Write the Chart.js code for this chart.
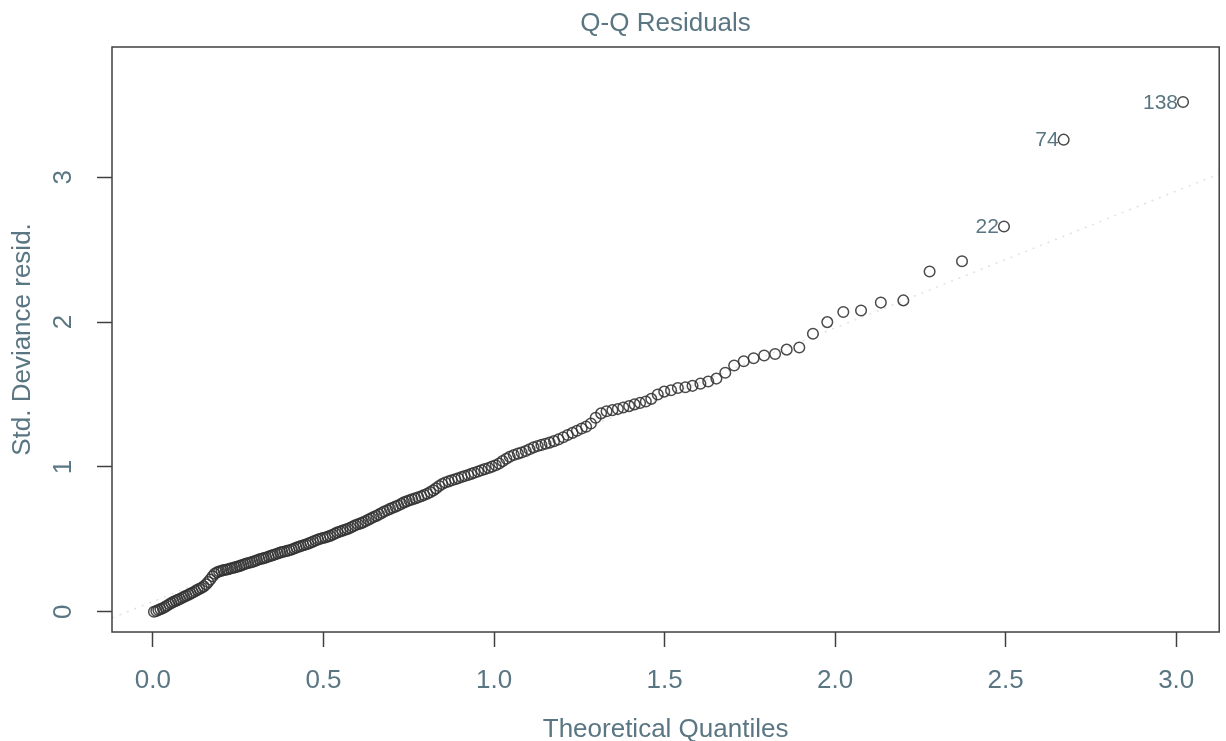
<!DOCTYPE html>
<html>
<head>
<meta charset="utf-8">
<title>Q-Q Residuals</title>
<script src="https://cdn.jsdelivr.net/npm/chart.js@4/dist/chart.umd.min.js"></script>
<style>
  html, body { margin: 0; padding: 0; background: #ffffff; }
  #wrap { position: relative; width: 1226px; height: 741px; }
  canvas { display: block; }
</style>
</head>
<body>
<div id="wrap"><canvas id="qq" width="1226" height="741"></canvas></div>
<script>
// Theoretical quantiles (upper half of the normal scores), ascending
const theoreticalQuantiles = [
  0.003,0.010,0.016,0.022,0.029,0.035,0.041,0.048,0.054,0.060,
  0.067,0.073,0.079,0.086,0.092,0.098,0.105,0.111,0.117,0.124,
  0.130,0.136,0.143,0.149,0.156,0.162,0.168,0.175,0.181,0.188,
  0.194,0.201,0.207,0.214,0.220,0.227,0.233,0.240,0.246,0.253,
  0.259,0.266,0.272,0.279,0.286,0.292,0.299,0.305,0.312,0.319,
  0.325,0.332,0.339,0.346,0.352,0.359,0.366,0.373,0.379,0.386,
  0.393,0.400,0.407,0.414,0.421,0.428,0.434,0.441,0.448,0.455,
  0.462,0.469,0.477,0.484,0.491,0.498,0.505,0.512,0.519,0.527,
  0.534,0.541,0.549,0.556,0.564,0.571,0.579,0.586,0.593,0.601,
  0.609,0.616,0.624,0.632,0.640,0.647,0.655,0.663,0.671,0.678,
  0.687,0.695,0.703,0.711,0.719,0.728,0.736,0.744,0.752,0.760,
  0.769,0.778,0.787,0.795,0.804,0.813,0.822,0.830,0.839,0.848,
  0.857,0.867,0.876,0.886,0.895,0.905,0.914,0.924,0.933,0.942,
  0.953,0.963,0.973,0.984,0.994,1.005,1.015,1.025,1.036,1.046,
  1.058,1.070,1.081,1.093,1.104,1.116,1.128,1.139,1.151,1.163,
  1.176,1.189,1.203,1.216,1.230,1.243,1.257,1.270,1.284,1.298,
  1.314,1.330,1.347,1.363,1.379,1.396,1.412,1.428,1.445,1.461,
  1.480,1.499,1.519,1.539,1.561,1.582,1.605,1.628,1.652,1.678,
  1.704,1.732,1.761,1.792,1.824,1.858,1.895,1.935,1.977,2.024,
  2.076,2.134,2.200,2.277,2.372,2.495,2.670,3.020
];

// Sorted standardized deviance residuals
const devianceResiduals = [
  0.000,0.005,0.012,0.018,0.024,0.033,0.041,0.052,0.060,0.068,
  0.075,0.082,0.088,0.096,0.104,0.110,0.118,0.126,0.133,0.142,
  0.150,0.158,0.166,0.175,0.190,0.205,0.222,0.245,0.262,0.272,
  0.278,0.283,0.287,0.290,0.293,0.298,0.302,0.306,0.310,0.315,
  0.320,0.326,0.331,0.336,0.340,0.344,0.350,0.356,0.362,0.366,
  0.370,0.375,0.381,0.386,0.391,0.397,0.402,0.408,0.412,0.416,
  0.420,0.425,0.430,0.437,0.443,0.449,0.454,0.459,0.464,0.470,
  0.476,0.484,0.492,0.499,0.504,0.509,0.513,0.518,0.524,0.532,
  0.540,0.548,0.554,0.560,0.566,0.572,0.580,0.589,0.597,0.604,
  0.610,0.617,0.626,0.636,0.645,0.654,0.662,0.672,0.682,0.692,
  0.701,0.710,0.718,0.726,0.734,0.745,0.755,0.762,0.770,0.776,
  0.783,0.790,0.798,0.806,0.815,0.826,0.838,0.852,0.868,0.882,
  0.892,0.900,0.908,0.915,0.922,0.930,0.937,0.944,0.952,0.960,
  0.968,0.977,0.985,0.993,1.002,1.012,1.024,1.040,1.056,1.070,
  1.082,1.092,1.100,1.110,1.122,1.135,1.145,1.152,1.160,1.168,
  1.178,1.190,1.205,1.220,1.235,1.250,1.265,1.278,1.300,1.340,
  1.370,1.385,1.392,1.400,1.410,1.420,1.432,1.442,1.452,1.470,
  1.500,1.520,1.530,1.545,1.550,1.560,1.575,1.590,1.610,1.650,
  1.700,1.730,1.750,1.770,1.780,1.810,1.825,1.920,2.000,2.070,
  2.080,2.135,2.150,2.350,2.420,2.660,3.260,3.520
];

// Observations flagged with their row number
const flaggedPointIndex = [195, 196, 197];
const flaggedPointText = ['22', '74', '138'];

// Reference line end points (x, y)
const refLineX = [-0.12, 3.126];
const refLineY = [-0.043, 3.024];

// Axis ticks
const xTickValues = [0, 0.5, 1, 1.5, 2, 2.5, 3];
const xTickLabels = ['0.0', '0.5', '1.0', '1.5', '2.0', '2.5', '3.0'];
const yTickValues = [0, 1, 2, 3];
const yTickLabels = ['0', '1', '2', '3'];

const chartTitle = 'Q-Q Residuals';
const xAxisTitle = 'Theoretical Quantiles';
const yAxisTitle = 'Std. Deviance resid.';

const TEXT_COLOR = '#5a7682';
const AXIS_COLOR = '#404040';
const FONT = '"Liberation Sans", Arial, sans-serif';

const points = theoreticalQuantiles.map((x, i) => ({ x: x, y: devianceResiduals[i] }));
const refLine = refLineX.map((x, i) => ({ x: x, y: refLineY[i] }));

// Box around the plotting region, titles, and point labels
const decorations = {
  id: 'decorations',
  afterDatasetsDraw(chart) {
    const ctx = chart.ctx;
    const a = chart.chartArea;
    ctx.save();
    ctx.strokeStyle = AXIS_COLOR;
    ctx.lineWidth = 1.5;
    ctx.strokeRect(a.left, a.top, a.right - a.left, a.bottom - a.top);

    // labels of flagged observations, to the left of their markers
    const meta = chart.getDatasetMeta(1);
    ctx.fillStyle = TEXT_COLOR;
    ctx.font = '21px ' + FONT;
    ctx.textAlign = 'right';
    ctx.textBaseline = 'middle';
    flaggedPointIndex.forEach((idx, j) => {
      const el = meta.data[idx];
      ctx.fillText(flaggedPointText[j], el.x - 5, el.y + 1);
    });

    // main title and axis titles
    ctx.font = '26px ' + FONT;
    ctx.textAlign = 'center';
    ctx.textBaseline = 'alphabetic';
    const cx = (a.left + a.right) / 2;
    ctx.fillText(chartTitle, cx, 31);
    ctx.fillText(xAxisTitle, cx, 737);

    ctx.translate(30, (a.top + a.bottom) / 2);
    ctx.rotate(-Math.PI / 2);
    ctx.fillText(yAxisTitle, 0, 0);
    ctx.restore();
  }
};

new Chart(document.getElementById('qq'), {
  type: 'scatter',
  data: {
    datasets: [
      {
        type: 'line',
        data: refLine,
        borderColor: 'rgba(170,170,170,0.35)',
        borderWidth: 1.5,
        borderDash: [2, 6],
        pointRadius: 0,
        fill: false,
        order: 2
      },
      {
        data: points,
        pointStyle: 'circle',
        pointRadius: 5.3,
        backgroundColor: 'rgba(0,0,0,0)',
        borderColor: 'rgba(50,50,50,0.88)',
        borderWidth: 1.5,
        order: 1
      }
    ]
  },
  options: {
    responsive: false,
    animation: false,
    devicePixelRatio: 1,
    events: [],
    layout: { padding: { left: 0, right: 4, top: 47, bottom: 0 } },
    plugins: {
      legend: { display: false },
      title: { display: false },
      tooltip: { enabled: false }
    },
    scales: {
      x: {
        type: 'linear',
        min: -0.12,
        max: 3.126,
        afterBuildTicks: s => { s.ticks = xTickValues.map(v => ({ value: v })); },
        afterFit: s => { s.height = 109; },
        border: { display: false },
        grid: {
          drawOnChartArea: false,
          drawTicks: true,
          tickLength: 15,
          tickWidth: 1.5,
          tickColor: AXIS_COLOR
        },
        ticks: {
          padding: 18,
          maxRotation: 0,
          color: TEXT_COLOR,
          font: { family: FONT, size: 26 },
          callback: (v) => xTickLabels[xTickValues.indexOf(v)]
        }
      },
      y: {
        type: 'linear',
        min: -0.14,
        max: 3.9,
        afterBuildTicks: s => { s.ticks = yTickValues.map(v => ({ value: v })); },
        afterFit: s => { s.width = 112; },
        border: { display: false },
        grid: {
          drawOnChartArea: false,
          drawTicks: true,
          tickLength: 15,
          tickWidth: 1.5,
          tickColor: AXIS_COLOR
        },
        ticks: {
          padding: 26,
          minRotation: 90,
          maxRotation: 90,
          crossAlign: 'center',
          color: TEXT_COLOR,
          font: { family: FONT, size: 26 },
          callback: (v) => yTickLabels[yTickValues.indexOf(v)]
        }
      }
    }
  },
  plugins: [decorations]
});
</script>
</body>
</html>
